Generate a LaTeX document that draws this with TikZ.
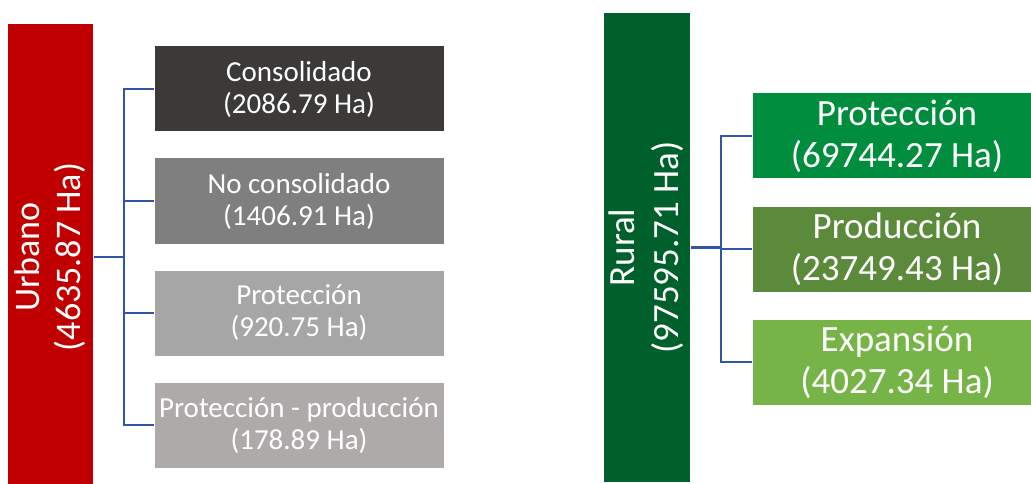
\documentclass[tikz,border=0pt]{standalone}
\usepackage{fontspec}
\setmainfont{Carlito}
\usetikzlibrary{positioning}

\definecolor{urbanored}{HTML}{C00000}
\definecolor{consgray}{HTML}{3B3A39}
\definecolor{noconsgray}{HTML}{7F7F7F}
\definecolor{protgray}{HTML}{A6A6A6}
\definecolor{prodpgray}{HTML}{AEAAAA}
\definecolor{ruralgreen}{HTML}{00602B}
\definecolor{protgreen}{HTML}{008E3E}
\definecolor{prodgreen}{HTML}{5B8A3A}
\definecolor{expgreen}{HTML}{76B447}
\definecolor{linkblue}{HTML}{3156A3}

\begin{document}
\begin{tikzpicture}
	[x=1pt, y=-1pt,
	bar/.style={rotate=90, text=white, align=center, draw=white, line width=1pt, inner sep=0pt},
	zone/.style={minimum width=290pt, minimum height=86pt, text=white, align=center, draw=white, line width=1pt, inner sep=0pt},
	smallzone/.style={zone, font=\fontsize{29}{32}\selectfont},
	bigzone/.style={zone, font=\fontsize{37}{42}\selectfont},
	link/.style={draw=linkblue, line width=2.5pt}]
	\useasboundingbox[fill=white] (0,0) rectangle (1031,484);

	% urban side
	\node[bar, fill=urbanored, minimum width=466pt, minimum height=86pt,
		font=\fontsize{36}{41}\selectfont] (urbano) at (50,257) {Urbano\\(4635.87 Ha)};
	\node[smallzone, fill=consgray] (cons) at (299,89) {Consolidado\\(2086.79 Ha)};
	\node[smallzone, fill=noconsgray, below=25pt of cons] (nocons) {No consolidado\\(1406.91 Ha)};
	\node[smallzone, fill=protgray, below=25pt of nocons] (uprot) {Protección\\(920.75 Ha)};
	\node[smallzone, fill=prodpgray, below=25pt of uprot] (uprodp) {Protección - producción\\(178.89 Ha)};

	\coordinate (uj) at (124,257);
	\draw[link] (urbano.south) -- (uj);
	\draw[link] (cons.west) -| (uj) |- (uprodp.west);
	\draw[link] (nocons.west) -- (nocons.west -| uj);
	\draw[link] (uprot.west) -- (uprot.west -| uj);

	% rural side
	\node[bar, fill=ruralgreen, minimum width=469pt, minimum height=87pt,
		font=\fontsize{37}{44}\selectfont] (rural) at (646.5,247.5) {Rural\\(97595.71 Ha)};
	\node[bigzone, fill=protgreen] (rprot) at (897,136) {Protección\\(69744.27 Ha)};
	\node[bigzone, fill=prodgreen, below=26pt of rprot] (rprod) {Producción\\(23749.43 Ha)};
	\node[bigzone, fill=expgreen, below=26pt of rprod] (rexp) {Expansión\\(4027.34 Ha)};

	\coordinate (rj) at (721,247.5);
	\draw[link] (rural.south) -- (rj);
	\draw[link] (rprot.west) -| (rj) |- (rexp.west);
	\draw[link] (rprod.west) -- (rprod.west -| rj);
\end{tikzpicture}
\end{document}
